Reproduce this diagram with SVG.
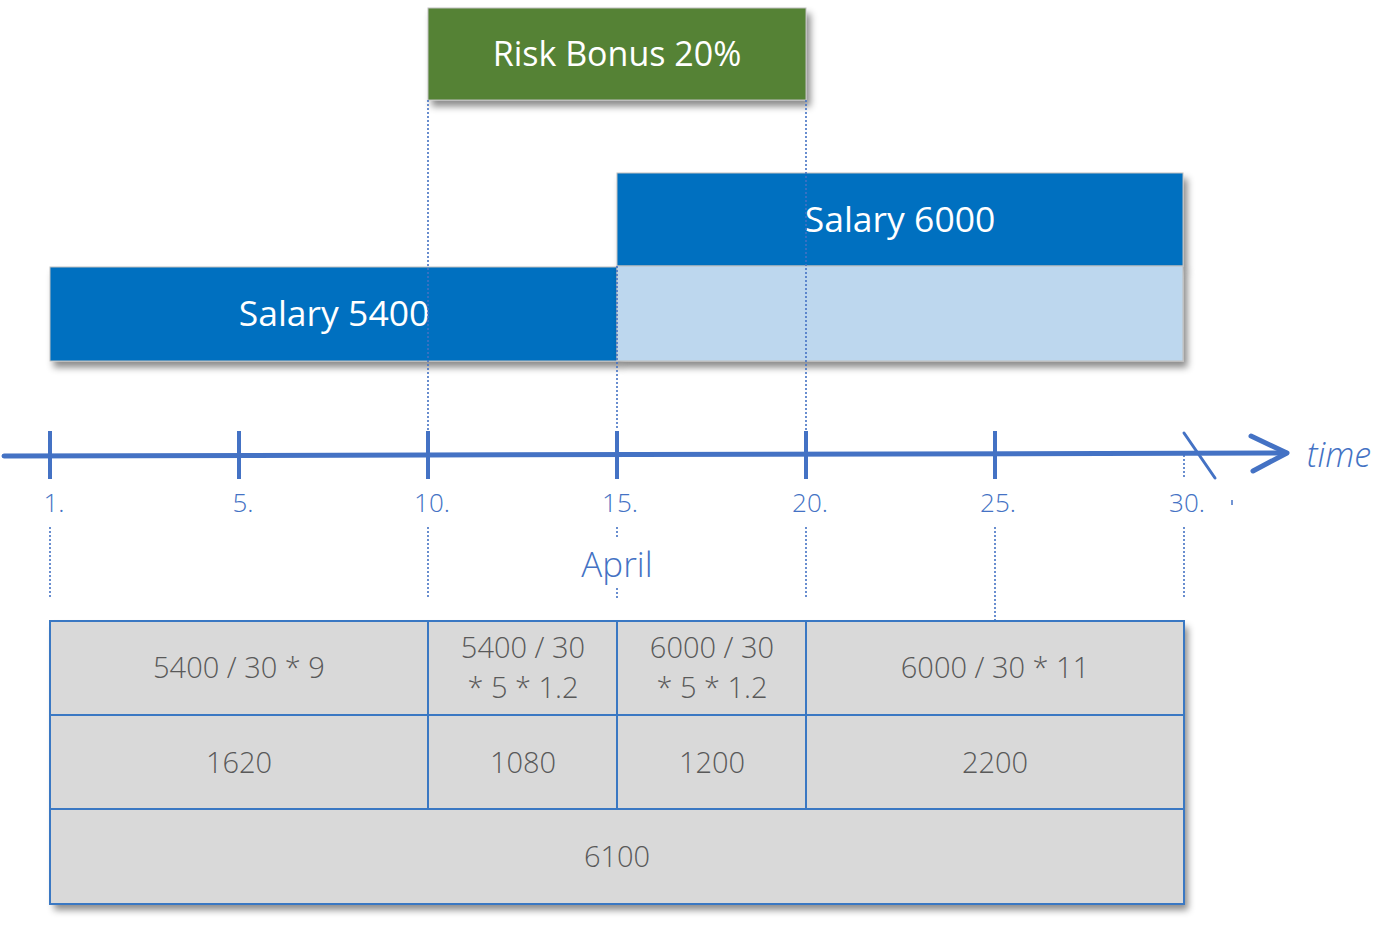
<svg xmlns="http://www.w3.org/2000/svg" width="1396" height="926" viewBox="0 0 1396 926">
<defs>
<filter id="sh" x="-10%" y="-20%" width="125%" height="150%">
<feDropShadow dx="4" dy="6" stdDeviation="3.5" flood-color="#000" flood-opacity="0.45"/>
</filter>
<style>
.bar{stroke:#BFBFBF;stroke-width:1}
.wt{font-family:"Open Sans","Liberation Sans",sans-serif;fill:#fff;text-anchor:middle}
.dot{stroke:#4472C4;stroke-width:1.6;stroke-dasharray:2 2;fill:none}
.ax{stroke:#4472C4;fill:none;stroke-linecap:round}
.lbl{font-family:"Open Sans","Liberation Sans",sans-serif;font-weight:300;fill:#4472C4;text-anchor:middle}
.cell{fill:#D9D9D9;stroke:#3A78C3;stroke-width:2}
.ct{font-family:"Open Sans","Liberation Sans",sans-serif;font-weight:300;fill:#595959;font-size:29px;text-anchor:middle}
</style>
</defs>
<rect width="1396" height="926" fill="#fff"/>

<g id="salary-5400">
<rect class="bar" x="50" y="267" width="567" height="94" fill="#0070C0" filter="url(#sh)"/>
<text class="wt" x="334" y="326" font-size="35.5">Salary 5400</text>
</g>
<g id="salary-6000">
<rect class="bar" x="617" y="173" width="566" height="93" fill="#0070C0" filter="url(#sh)"/>
<text class="wt" x="900" y="232" font-size="35.5">Salary 6000</text>
</g>
<g id="salary-6000-lower">
<rect class="bar" x="617" y="266" width="566" height="95" fill="#BDD7EE" filter="url(#sh)"/>
</g>
<g id="risk-bonus">
<rect class="bar" x="428" y="8" width="378" height="92" fill="#548235" filter="url(#sh)"/>
<text class="wt" x="617" y="66" font-size="34">Risk Bonus 20%</text>
</g>

<g id="connectors">
<line class="dot" x1="428" y1="100" x2="428" y2="430"/>
<line class="dot" x1="428" y1="527" x2="428" y2="598"/>
<line class="dot" x1="806" y1="100" x2="806" y2="430"/>
<line class="dot" x1="806" y1="527" x2="806" y2="598"/>
<line class="dot" x1="617" y1="266" x2="617" y2="430"/>
<line class="dot" x1="617" y1="527" x2="617" y2="538"/>
<line class="dot" x1="617" y1="588" x2="617" y2="598"/>
<line class="dot" x1="50" y1="527" x2="50" y2="598"/>
<line class="dot" x1="995" y1="527" x2="995" y2="621"/>
<line class="dot" x1="1184" y1="455" x2="1184" y2="478"/>
<line class="dot" x1="1184" y1="527" x2="1184" y2="598"/>
</g>

<g id="axis">
<line class="ax" x1="4" y1="456" x2="1286" y2="453" stroke-width="5"/>
<polyline class="ax" points="1251,436 1287,453 1253,471" stroke-width="5" stroke-linejoin="round"/>
<line class="ax" x1="1184" y1="433" x2="1215" y2="478" stroke-width="3"/>
<g stroke="#4472C4" stroke-width="4">
<line x1="50" y1="431" x2="50" y2="479"/>
<line x1="239" y1="431" x2="239" y2="479"/>
<line x1="428" y1="431" x2="428" y2="479"/>
<line x1="617" y1="431" x2="617" y2="479"/>
<line x1="806" y1="431" x2="806" y2="479"/>
<line x1="995" y1="431" x2="995" y2="479"/>
</g>
<line x1="1232" y1="500" x2="1232" y2="505" stroke="#4472C4" stroke-width="1.5"/>
<text class="lbl" x="1339" y="467" font-size="34" font-style="italic" font-weight="400">time</text>
<g font-size="26">
<text class="lbl" x="54" y="512">1.</text>
<text class="lbl" x="243" y="512">5.</text>
<text class="lbl" x="432" y="512">10.</text>
<text class="lbl" x="620" y="512">15.</text>
<text class="lbl" x="810" y="512">20.</text>
<text class="lbl" x="998" y="512">25.</text>
<text class="lbl" x="1187" y="512">30.</text>
</g>
<text class="lbl" x="617" y="577" font-size="35">April</text>
</g>

<g id="table">
<rect x="50" y="621" width="1134" height="283" fill="#D9D9D9" filter="url(#sh)"/>
<g id="cell-r1c1"><rect class="cell" x="50" y="621" width="378" height="94"/><text class="ct" x="239" y="678">5400 / 30 * 9</text></g>
<g id="cell-r1c2"><rect class="cell" x="428" y="621" width="189" height="94"/><text class="ct" x="523" y="658">5400 / 30</text><text class="ct" x="523" y="698">* 5 * 1.2</text></g>
<g id="cell-r1c3"><rect class="cell" x="617" y="621" width="189" height="94"/><text class="ct" x="712" y="658">6000 / 30</text><text class="ct" x="712" y="698">* 5 * 1.2</text></g>
<g id="cell-r1c4"><rect class="cell" x="806" y="621" width="378" height="94"/><text class="ct" x="995" y="678">6000 / 30 * 11</text></g>
<g id="cell-r2c1"><rect class="cell" x="50" y="715" width="378" height="94"/><text class="ct" x="239" y="773">1620</text></g>
<g id="cell-r2c2"><rect class="cell" x="428" y="715" width="189" height="94"/><text class="ct" x="523" y="773">1080</text></g>
<g id="cell-r2c3"><rect class="cell" x="617" y="715" width="189" height="94"/><text class="ct" x="712" y="773">1200</text></g>
<g id="cell-r2c4"><rect class="cell" x="806" y="715" width="378" height="94"/><text class="ct" x="995" y="773">2200</text></g>
<g id="cell-r3"><rect class="cell" x="50" y="809" width="1134" height="95"/><text class="ct" x="617" y="867">6100</text></g>
</g>
</svg>
